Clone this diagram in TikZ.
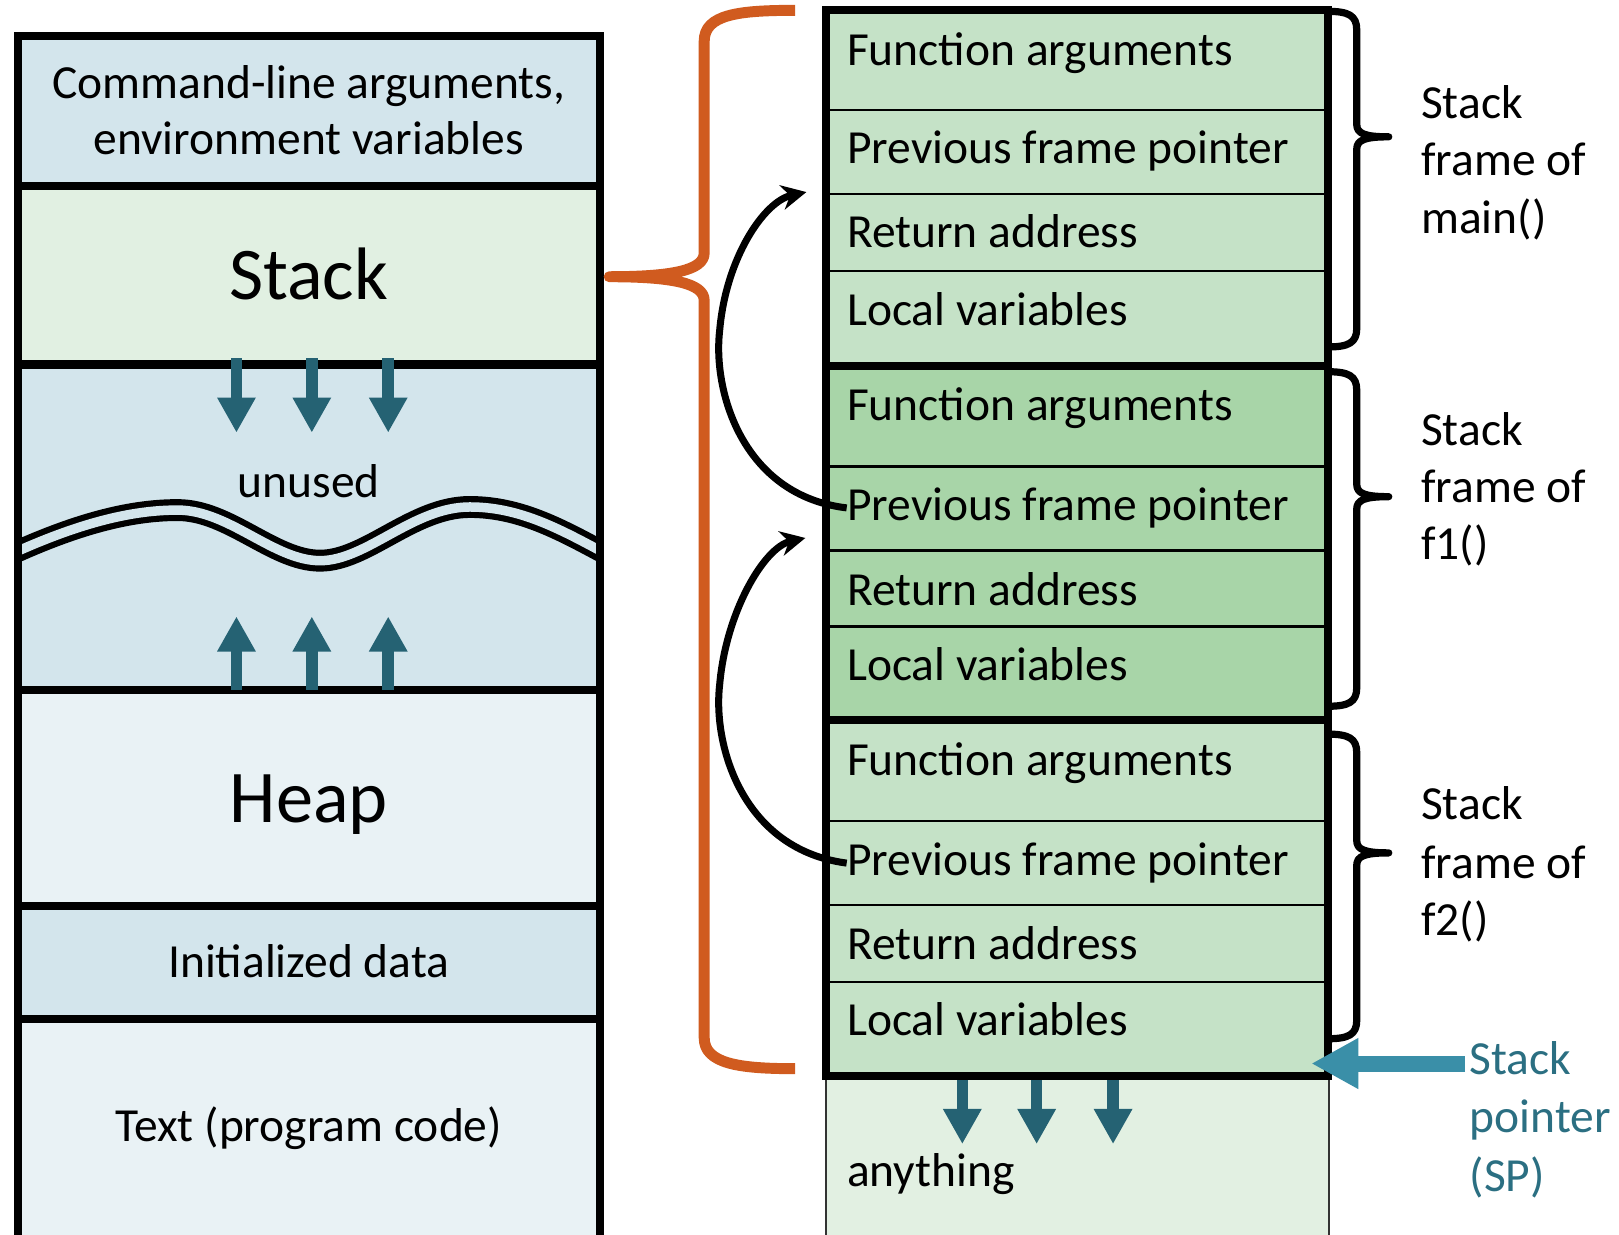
\documentclass[tikz,border=0pt]{standalone}
\usepackage{fontspec}
\setmainfont{Carlito}
\usetikzlibrary{arrows.meta}
\definecolor{segblue}{HTML}{D3E5EC}
\definecolor{seggreen}{HTML}{E1F0E2}
\definecolor{segpale}{HTML}{E9F2F5}
\definecolor{framegreen}{HTML}{C5E2C7}
\definecolor{framemid}{HTML}{A8D5A8}
\definecolor{anygreen}{HTML}{E2F0E2}
\definecolor{growteal}{HTML}{256273}
\definecolor{spteal}{HTML}{3A8FA8}
\definecolor{sptext}{HTML}{2B6F82}
\definecolor{bracecol}{HTML}{D05B1F}
\tikzset{
  txt/.style={font=\fontsize{23}{27}\selectfont, inner sep=0pt, text=black},
  bigtxt/.style={font=\fontsize{36}{40}\selectfont, inner sep=0pt, text=black},
  heavy/.style={line width=3.9pt},
  rowline/.style={line width=1.3pt},
  framebrace/.style={line width=3.5pt, line join=round},
  growarrow/.style={draw=growteal, line width=5.6pt, -{Triangle[length=17pt,width=17.5pt,fill=growteal]}},
  ptrarrow/.style={line width=3.4pt, -{Stealth[length=12pt,width=12pt]}},
}
\newcommand\drawframebrace[3]{%
  \draw[framebrace] (1286,#1) .. controls (1306,#1) and (1314,#1+4) .. (1314,#1+18)
    -- (1314,#2-12) .. controls (1314,#2-3) and (1322,#2) .. (1345,#2)
    .. controls (1322,#2) and (1314,#2+3) .. (1314,#2+12)
    -- (1314,#3-18) .. controls (1314,#3-4) and (1306,#3) .. (1286,#3);}
\begin{document}
\begin{tikzpicture}[x=0.5pt,y=-0.5pt]
\useasboundingbox (0,0) rectangle (1568,1196);

% ---------- left column: memory layout ----------
\fill[segblue]  (17,35)  rectangle (581,180);
\fill[seggreen] (17,180) rectangle (581,353);
\fill[segblue]  (17,353) rectangle (581,668);
\fill[segpale]  (17,668) rectangle (581,877);
\fill[segblue]  (17,877) rectangle (581,987);
\fill[segpale]  (17,987) rectangle (581,1210);

\begin{scope}
\clip (17,353) rectangle (581,668);
\draw[line width=3pt, double=segblue, double distance=4.6pt]
  (10,537) .. controls (80,505) and (130,494) .. (172,494)
  .. controls (222,494) and (265,543) .. (310,543)
  .. controls (355,543) and (400,491) .. (455,491)
  .. controls (505,491) and (545,514) .. (590,538);
\end{scope}

\foreach \yy in {180,353,668,877,987} \draw[heavy] (17,\yy) -- (581,\yy);
\draw[heavy] (17,1210) -- (17,35) -- (581,35) -- (581,1210);

\foreach \xx in {229,302,376} {
  \draw[growarrow] (\xx,347) -- (\xx,419);
  \draw[growarrow] (\xx,668) -- (\xx,597);
}

\node[txt, anchor=base] (cmdA) at (299,95) {Command-line arguments,};
\node[txt, anchor=base] (cmdB) at (299,150) {environment variables};
\node[bigtxt, anchor=base] (stk) at (299,290) {Stack};
\node[txt, anchor=base] (unused) at (299,482) {unused};
\node[bigtxt, anchor=base] (heap) at (299,797) {Heap};
\node[txt, anchor=base] (init) at (299,947) {Initialized data};
\node[txt, anchor=base] (textseg) at (299,1106) {Text (program code)};

% ---------- right column: stack frames ----------
\fill[framegreen] (800,10)    rectangle (1286,354.5);
\fill[framemid]   (800,354.5) rectangle (1286,697.5);
\fill[framegreen] (800,697.5) rectangle (1286,1042);
\fill[anygreen]   (800,1042)  rectangle (1287,1210);

\foreach \yy in {106.5,188,262.5,452,533,607,795,876.5,951}
  \draw[rowline] (800,\yy) -- (1286,\yy);
\draw[line width=1pt, black!80] (800,1042) -- (800,1210);
\draw[line width=1pt, black!80] (1287,1042) -- (1287,1210);

\draw[heavy] (800,10) rectangle (1286,1042);
\draw[heavy] (800,354.5) -- (1286,354.5);
\draw[heavy] (800,697.5) -- (1286,697.5);

\node[txt, anchor=base west] (mfa)  at (820,63)  {Function arguments};
\node[txt, anchor=base west] (mpfp) at (820,158) {Previous frame pointer};
\node[txt, anchor=base west] (mra)  at (820,240) {Return address};
\node[txt, anchor=base west] (mlv)  at (820,315) {Local variables};

\node[txt, anchor=base west] (afa)  at (820,407)   {Function arguments};
\node[txt, anchor=base west] (apfp) at (820,504)   {Previous frame pointer};
\node[txt, anchor=base west] (ara)  at (820,586)   {Return address};
\node[txt, anchor=base west] (alv)  at (820,659.5) {Local variables};

\node[txt, anchor=base west] (bfa)  at (820,751)  {Function arguments};
\node[txt, anchor=base west] (bpfp) at (820,848)  {Previous frame pointer};
\node[txt, anchor=base west] (bra)  at (820,929)  {Return address};
\node[txt, anchor=base west] (blv)  at (820,1003) {Local variables};

\node[txt, anchor=base west] (anyth) at (820,1149) {anything};

\foreach \xx in {932,1004,1078}
  \draw[growarrow] (\xx,1046) -- (\xx,1108);

% frame braces and labels
\drawframebrace{11}{132.5}{336}
\drawframebrace{360}{481}{684}
\drawframebrace{711}{826}{1006}

\node[txt, anchor=base west] (mlabA) at (1376,115) {Stack};
\node[txt, anchor=base west] (mlabB) at (1376,170) {frame of};
\node[txt, anchor=base west] (mlabC) at (1376,226) {main()};
\node[txt, anchor=base west] (alabA) at (1376,431) {Stack};
\node[txt, anchor=base west] (alabB) at (1376,487) {frame of};
\node[txt, anchor=base west] (alabC) at (1376,542) {f1()};
\node[txt, anchor=base west] (blabA) at (1376,794) {Stack};
\node[txt, anchor=base west] (blabB) at (1376,851) {frame of};
\node[txt, anchor=base west] (blabC) at (1376,906) {f2()};

% stack pointer
\coordinate (sptail) at (1419,1030);
\coordinate (sphead) at (1270,1030);
\draw[spteal, line width=7.75pt, -{Triangle[length=22.75pt,width=23pt]}] (sptail) -- (sphead);
\node[txt, text=sptext, anchor=base west] (spA) at (1423,1041) {Stack};
\node[txt, text=sptext, anchor=base west] (spB) at (1423,1097) {pointer};
\node[txt, text=sptext, anchor=base west] (spC) at (1423,1154) {(SP)};

% orange brace linking Stack segment to frames
\draw[bracecol, line width=5.3pt, line join=round]
  (770,10) .. controls (715,10) and (682,14) .. (682,40)
  -- (682,245) .. controls (682,262) and (650,268) .. (590,268)
  .. controls (650,268) and (682,274) .. (682,291)
  -- (682,1005) .. controls (682,1030) and (715,1035) .. (770,1035);

% previous frame pointer links
\coordinate (tipA) at (781,186);
\coordinate (tipB) at (780,521);
\draw[ptrarrow] (apfp.west) .. controls (720,480) and (690,380) .. (697,320)
  .. controls (703,250) and (740,195) .. (tipA);
\draw[ptrarrow] (bpfp.west) .. controls (720,823) and (690,723) .. (697,663)
  .. controls (703,593) and (740,530) .. (tipB);
\end{tikzpicture}
\end{document}
